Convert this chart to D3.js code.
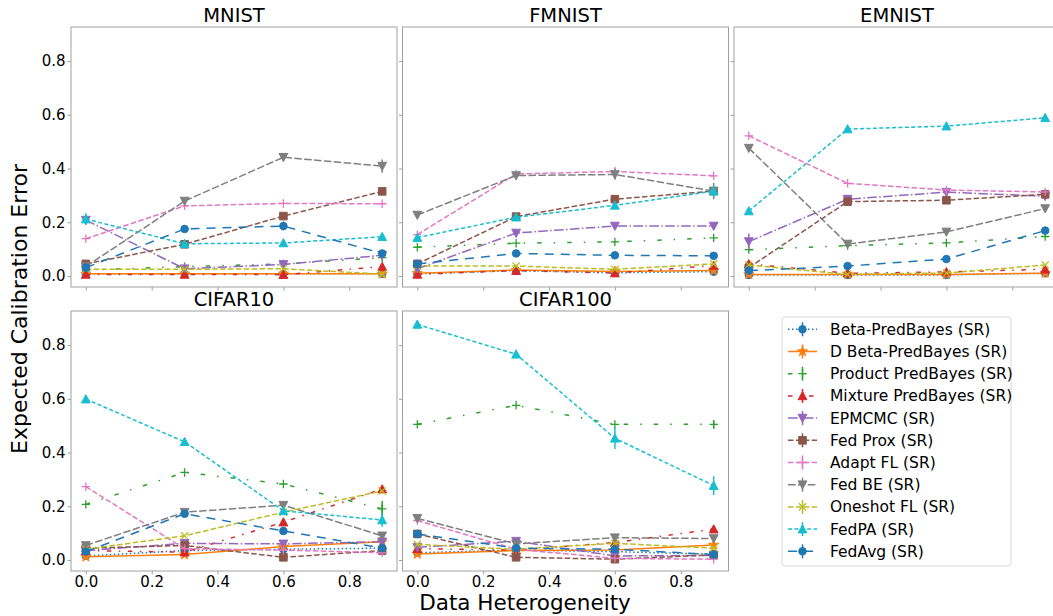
<!DOCTYPE html>
<html>
<head>
<meta charset="utf-8">
<script src="https://cdn.jsdelivr.net/npm/d3@7"></script>
<style>
  body { margin: 0; background: #fff; }
  svg { font-family: "DejaVu Sans", sans-serif; }
</style>
</head>
<body>
<div id="chart"></div>
<script>
// x values (data heterogeneity) shared by every panel
const heterogeneity = [0, 0.3, 0.6, 0.9]
const xTicks = [0, 0.2, 0.4, 0.6, 0.8]
const yTicks = [0, 0.2, 0.4, 0.6, 0.8]

const datasets = ["MNIST", "FMNIST", "EMNIST", "CIFAR10", "CIFAR100"]

const methods = [
  "Beta-PredBayes (SR)", "D Beta-PredBayes (SR)", "Product PredBayes (SR)",
  "Mixture PredBayes (SR)", "EPMCMC (SR)", "Fed Prox (SR)", "Adapt FL (SR)",
  "Fed BE (SR)", "Oneshot FL (SR)", "FedPA (SR)", "FedAvg (SR)"
]

// ECE per method (rows follow `methods`), columns follow `heterogeneity`
const mnist = [
  [0.008, 0.008, 0.008, 0.008],
  [0.008, 0.008, 0.008, 0.008],
  [0.022, 0.035, 0.045, 0.068],
  [0.006, 0.006, 0.005, 0.035],
  [0.208, 0.027, 0.043, 0.077],
  [0.045, 0.118, 0.223, 0.315],
  [0.139, 0.261, 0.270, 0.269],
  [0.035, 0.279, 0.442, 0.409],
  [0.025, 0.025, 0.027, 0.007],
  [0.212, 0.120, 0.123, 0.146],
  [0.031, 0.175, 0.186, 0.084]
]
const fmnist = [
  [0.008, 0.020, 0.012, 0.016],
  [0.010, 0.022, 0.017, 0.020],
  [0.107, 0.122, 0.127, 0.142],
  [0.006, 0.020, 0.011, 0.039],
  [0.027, 0.160, 0.186, 0.186],
  [0.045, 0.221, 0.286, 0.316],
  [0.154, 0.380, 0.389, 0.373],
  [0.227, 0.374, 0.378, 0.316],
  [0.037, 0.037, 0.025, 0.045],
  [0.143, 0.219, 0.263, 0.316],
  [0.045, 0.084, 0.077, 0.075]
]
const emnist = [
  [0.004, 0.004, 0.004, 0.010],
  [0.006, 0.006, 0.006, 0.010],
  [0.098, 0.113, 0.123, 0.147],
  [0.045, 0.010, 0.015, 0.025],
  [0.128, 0.286, 0.312, 0.297],
  [0.031, 0.277, 0.282, 0.304],
  [0.522, 0.345, 0.320, 0.313],
  [0.476, 0.119, 0.164, 0.251],
  [0.041, 0.006, 0.011, 0.041],
  [0.242, 0.547, 0.558, 0.589],
  [0.020, 0.037, 0.063, 0.169]
]
const cifar10 = [
  [0.015, 0.035, 0.040, 0.044],
  [0.012, 0.020, 0.050, 0.068],
  [0.207, 0.326, 0.283, 0.190],
  [0.035, 0.029, 0.141, 0.264],
  [0.035, 0.062, 0.060, 0.068],
  [0.044, 0.054, 0.010, 0.035],
  [0.273, 0.042, 0.037, 0.027],
  [0.054, 0.178, 0.204, 0.090],
  [0.040, 0.090, 0.178, 0.257],
  [0.599, 0.440, 0.183, 0.149],
  [0.031, 0.172, 0.108, 0.044]
]
const cifar100 = [
  [0.027, 0.037, 0.031, 0.022],
  [0.022, 0.035, 0.037, 0.056],
  [0.505, 0.576, 0.505, 0.505],
  [0.042, 0.037, 0.065, 0.115],
  [0.047, 0.070, 0.015, 0.017],
  [0.097, 0.010, 0.003, 0.019],
  [0.147, 0.040, 0.006, 0.003],
  [0.155, 0.060, 0.083, 0.080],
  [0.058, 0.040, 0.062, 0.044],
  [0.877, 0.766, 0.453, 0.277],
  [0.097, 0.044, 0.040, 0.020]
]
const eceByDataset = [mnist, fmnist, emnist, cifar10, cifar100]

// visible error bars: [dataset index, method index, point index, half-width]
const errorBars = [
  [0, 9, 0, 0.022], [0, 7, 3, 0.025], [0, 10, 2, 0.016], [0, 5, 3, 0.012],
  [1, 7, 2, 0.02], [1, 7, 3, 0.03], [1, 6, 2, 0.015], [1, 9, 3, 0.02],
  [2, 4, 0, 0.03],
  [3, 9, 1, 0.015], [3, 9, 3, 0.025], [3, 2, 3, 0.03],
  [4, 9, 2, 0.04], [4, 9, 3, 0.035], [4, 2, 3, 0.015]
]

const colors = ["#1f77b4", "#ff7f0e", "#2ca02c", "#d62728", "#9467bd", "#8c564b",
                "#e377c2", "#7f7f7f", "#bcbd22", "#17becf", "#1f77b4"]
const markers = ["circle", "star", "plus", "triUp", "triDown", "square",
                 "plus", "triDown", "x", "triUp", "circle"]
const dashes = ["1.5,2.5", null, "4.5,12,1.5,12", "4.5,7.5,1.5,7.5", "9.6,2.4,1.5,2.4",
                "5.5,2.4", "5.5,2.4", "7.5,2.4", "5.5,2.4", "4,2.4", "9,7"]

// layout
const panel = { width: 326, height: 260 }
const panelLeft = [71, 402.5, 734]
const panelTop = [27, 311]
const axisColor = "#a0a0a0"

const svg = d3.select("#chart").append("svg")
  .attr("width", 1053).attr("height", 616)

const xScale = d3.scaleLinear().domain([-0.045, 0.945]).range([0, panel.width])
const yScale = d3.scaleLinear().domain([-0.041, 0.927]).range([panel.height, 0])

function markerPath(type){
  const p = d3.path()
  const r = 3.8
  if (type === "circle") return d3.symbol(d3.symbolCircle, Math.PI * r * r)()
  if (type === "star") return d3.symbol(d3.symbolStar, 32)()
  if (type === "square"){ p.rect(-r, -r, 2 * r, 2 * r); return p.toString() }
  if (type === "triUp"){ p.moveTo(0, -r - 0.6); p.lineTo(-r - 0.6, r); p.lineTo(r + 0.6, r); p.closePath(); return p.toString() }
  if (type === "triDown"){ p.moveTo(0, r + 0.6); p.lineTo(-r - 0.6, -r); p.lineTo(r + 0.6, -r); p.closePath(); return p.toString() }
  if (type === "plus"){ p.moveTo(-4.2, 0); p.lineTo(4.2, 0); p.moveTo(0, -4.2); p.lineTo(0, 4.2); return p.toString() }
  if (type === "x"){ p.moveTo(-3.6, -3.6); p.lineTo(3.6, 3.6); p.moveTo(-3.6, 3.6); p.lineTo(3.6, -3.6); return p.toString() }
}
const thinMarker = t => t === "plus" || t === "x"

function drawMarker(g, type, color, x, y){
  const filled = !thinMarker(type)
  g.append("path")
    .attr("d", markerPath(type))
    .attr("transform", `translate(${x},${y})`)
    .attr("fill", filled ? color : "none")
    .attr("stroke", color)
    .attr("stroke-width", filled ? 1 : 1.3)
}

datasets.forEach((name, di) => {
  const col = di % 3, row = Math.floor(di / 3)
  const g = svg.append("g")
    .attr("transform", `translate(${panelLeft[col]},${panelTop[row]})`)

  // axes
  const xAxis = d3.axisBottom(xScale).tickValues(xTicks).tickSize(3.5).tickPadding(1.5)
    .tickFormat(row === 1 ? d3.format(".1f") : "")
  const yAxis = d3.axisLeft(yScale).tickValues(yTicks).tickSize(3.5).tickPadding(2)
    .tickFormat(col === 0 ? d3.format(".1f") : "")

  const gx = g.append("g").attr("transform", `translate(0,${panel.height})`).call(xAxis)
  const gy = g.append("g").call(yAxis)
  ;[gx, gy].forEach(a => {
    a.select(".domain").remove()
    a.selectAll(".tick line").attr("stroke", axisColor)
    a.selectAll(".tick text").attr("fill", "#000").style("font-size", "15px")
      .style("font-family", "DejaVu Sans")
  })

  // clip for data
  const clipId = "clip" + di
  g.append("clipPath").attr("id", clipId).append("rect")
    .attr("width", panel.width).attr("height", panel.height)
  const plot = g.append("g").attr("clip-path", `url(#${clipId})`)

  const line = d3.line().x((d, i) => xScale(heterogeneity[i])).y(d => yScale(d))

  eceByDataset[di].forEach((vals, mi) => {
    const color = colors[mi]
    plot.append("path")
      .datum(vals)
      .attr("d", line)
      .attr("fill", "none")
      .attr("stroke", color)
      .attr("stroke-width", 1.5)
      .attr("stroke-dasharray", dashes[mi])

    errorBars.filter(e => e[0] === di && e[1] === mi).forEach(e => {
      const v = vals[e[2]]
      plot.append("line")
        .attr("x1", xScale(heterogeneity[e[2]])).attr("x2", xScale(heterogeneity[e[2]]))
        .attr("y1", yScale(v - e[3])).attr("y2", yScale(v + e[3]))
        .attr("stroke", color).attr("stroke-width", 1.5)
    })

    vals.forEach((v, i) => drawMarker(plot, markers[mi], color, xScale(heterogeneity[i]), yScale(v)))
  })

  // frame
  g.append("rect")
    .attr("width", panel.width).attr("height", panel.height)
    .attr("fill", "none").attr("stroke", axisColor).attr("stroke-width", 1)

  // title
  g.append("text")
    .attr("x", panel.width / 2).attr("y", -5)
    .attr("text-anchor", "middle")
    .style("font-size", "19.5px")
    .text(name)
})

// axis labels
svg.append("text")
  .attr("transform", "translate(27,309) rotate(-90)")
  .attr("text-anchor", "middle")
  .style("font-size", "22px")
  .text("Expected Calibration Error")

svg.append("text")
  .attr("x", 525).attr("y", 610)
  .attr("text-anchor", "middle")
  .style("font-size", "21.5px")
  .text("Data Heterogeneity")

// legend
const legend = svg.append("g").attr("transform", "translate(782,317)")
legend.append("rect")
  .attr("width", 229).attr("height", 249).attr("rx", 3)
  .attr("fill", "#fff").attr("stroke", "#d8d8d8")

methods.forEach((m, mi) => {
  const y = 12.3 + mi * 22.2
  const color = colors[mi]
  legend.append("line")
    .attr("x1", 6).attr("x2", 35).attr("y1", y).attr("y2", y)
    .attr("stroke", color).attr("stroke-width", 1.5)
    .attr("stroke-dasharray", dashes[mi])
  legend.append("line")
    .attr("x1", 20.5).attr("x2", 20.5).attr("y1", y - 7).attr("y2", y + 7)
    .attr("stroke", color).attr("stroke-width", 1.5)
  drawMarker(legend, markers[mi], color, 20.5, y)
  legend.append("text")
    .attr("x", 48).attr("y", y)
    .attr("dy", "0.35em")
    .style("font-size", "15.5px")
    .text(m)
})
</script>
</body>
</html>
